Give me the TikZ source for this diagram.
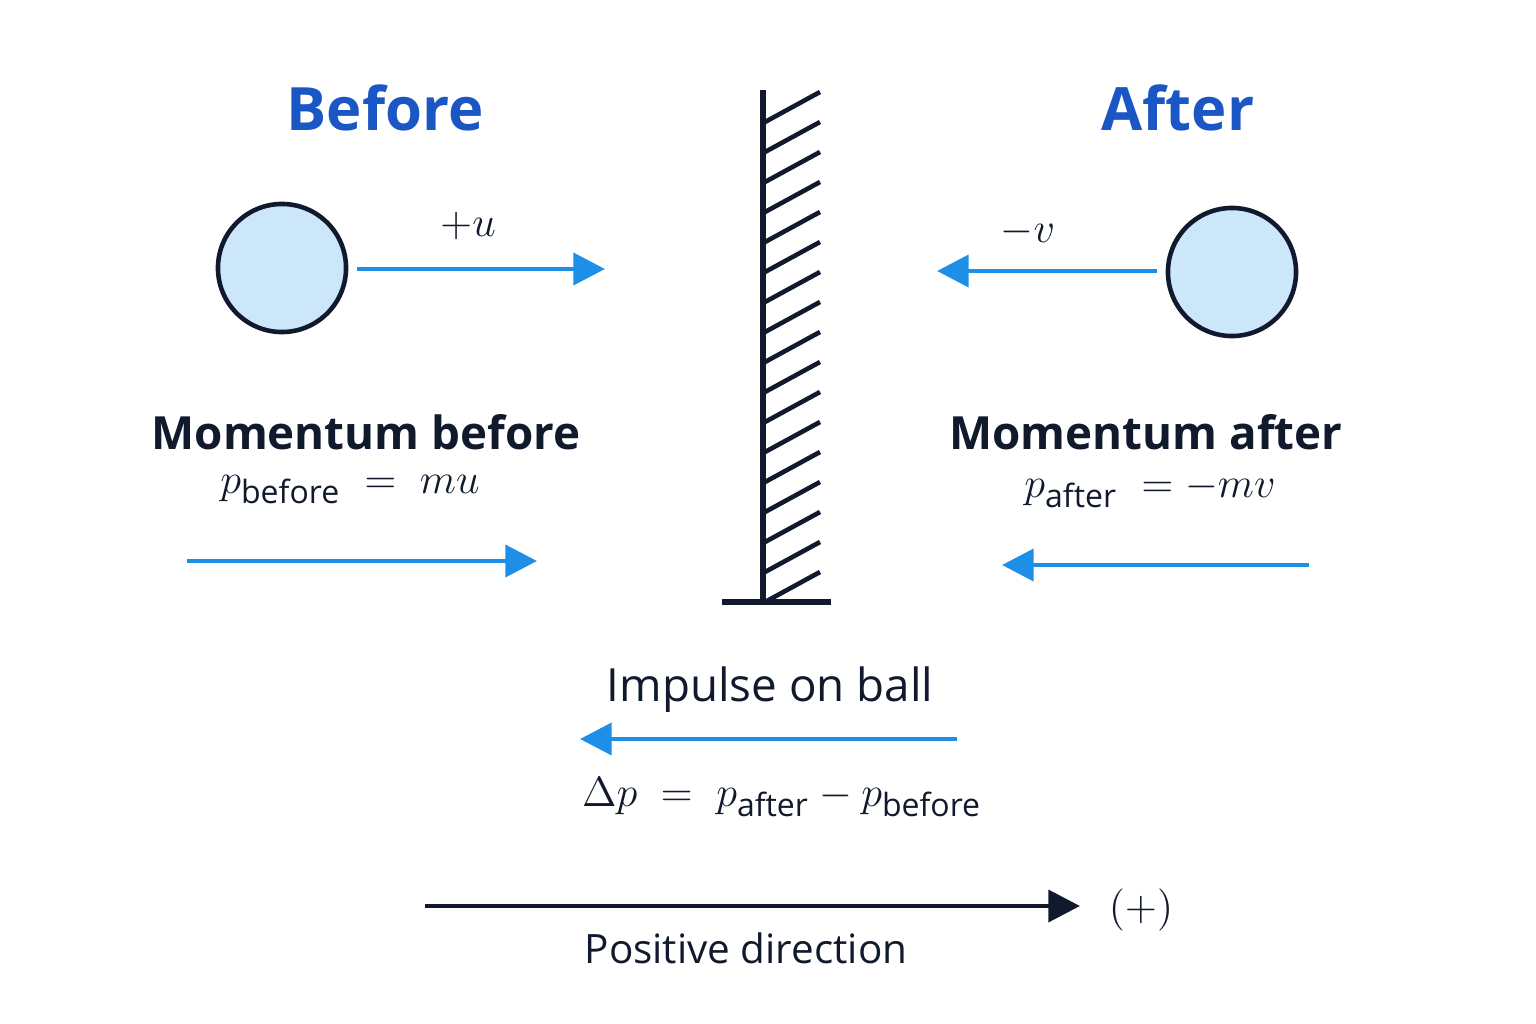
\documentclass[tikz,border=0pt]{standalone}
\usepackage{amsmath}
\usepackage{fontspec}
\setmainfont{Open Sans}
\usepackage{tikz}
\usetikzlibrary{arrows.meta,calc,positioning}
\definecolor{titleblue}{HTML}{1A56C4}
\definecolor{arrowblue}{HTML}{1E8FE6}
\definecolor{ballfill}{HTML}{CCE6FA}
\definecolor{ink}{HTML}{111A2C}
\tikzset{
    >={Triangle[length=9pt,width=9pt]},
    titel/.style={
           font=\fontsize{17pt}{19pt}\selectfont\bfseries,
           text=titleblue},
    tekst/.style={
           font=\fontsize{11.5pt}{13pt}\selectfont,
           text=ink},
    ball/.style={
           circle,
           draw=ink, line width=1.3pt,
           fill=ballfill,
           minimum size=1.28cm,
           inner sep=0pt},
    pil/.style={
           ->,
           line width=1.4pt,
           draw=arrowblue},
    pospil/.style={
           ->,
           line width=1.4pt,
           draw=ink}
}
\begin{document}
\begin{tikzpicture}[x=0.01cm,y=-0.01cm]
          \useasboundingbox (0,0) rectangle (1536,1024);
          % titles
          \node[titel](before) at (385,108) {Before};
          \node[titel](after) at (1178,108) {After};
          % balls
          \node[ball](ballL) at (282,268) {};
          \node[ball](ballR) at (1232,272) {};
          \coordinate (uend) at (605,269);
          \coordinate (vend) at (937,271);
          \draw[pil] (ballL.east) ++(9,1) coordinate (ustart) -- (uend);
          \draw[pil] (ballR.west) ++(-9,-1) coordinate (vstart) -- (vend);
          \node[tekst, font=\fontsize{13pt}{15pt}\selectfont](lu) at (468,226) {$+u$};
          \node[tekst, font=\fontsize{13pt}{15pt}\selectfont](lv) at (1028,232) {$-v$};
          % wall
          \coordinate (wtop) at (763,90);
          \coordinate (wbot) at (763,602);
          \draw[ink, line width=1.5pt] (wtop) -- (wbot);
          \draw[ink, line width=1.5pt] (722,602) -- (831,602);
          \foreach \i in {0,...,16}
              \draw[ink, line width=1.3pt] (765,{122+30*\i}) -- (820,{92+30*\i});
          % momentum labels
          \node[tekst, font=\fontsize{13pt}{15pt}\selectfont\bfseries](mb) at (366,432) {Momentum before};
          \node[tekst, font=\fontsize{13pt}{15pt}\selectfont](pb) at (350,490) {$p_{\text{before}}\;=\;mu$};
          \node[tekst, font=\fontsize{13pt}{15pt}\selectfont\bfseries](ma) at (1146,432) {Momentum after};
          \node[tekst, font=\fontsize{13pt}{15pt}\selectfont](pa) at (1150,490) {$p_{\text{after}}\;=-mv$};
          \coordinate (mbs) at (187,561);
          \coordinate (mbe) at (537,561);
          \coordinate (mas) at (1309,565);
          \coordinate (mae) at (1002,565);
          \draw[pil] (mbs) -- (mbe);
          \draw[pil] (mas) -- (mae);
          % impulse
          \node[tekst, font=\fontsize{13pt}{15pt}\selectfont](imp) at (770,690) {Impulse on ball};
          \coordinate (is) at (957,739);
          \coordinate (ie) at (580,739);
          \draw[pil] (is) -- (ie);
          \node[tekst, font=\fontsize{13pt}{15pt}\selectfont](dp) at (782,797) {$\Delta p\;=\;p_{\text{after}}-p_{\text{before}}$};
          % positive direction
          \coordinate (ps) at (425,906);
          \node[tekst, font=\fontsize{13pt}{15pt}\selectfont](plus) at (1141,910) {$(+)$};
          \coordinate (pe) at (1080,906);
          \draw[pospil] (ps) -- (pe);
          \node[tekst](posdir) at (746,948) {Positive direction};
\end{tikzpicture}
\end{document}
